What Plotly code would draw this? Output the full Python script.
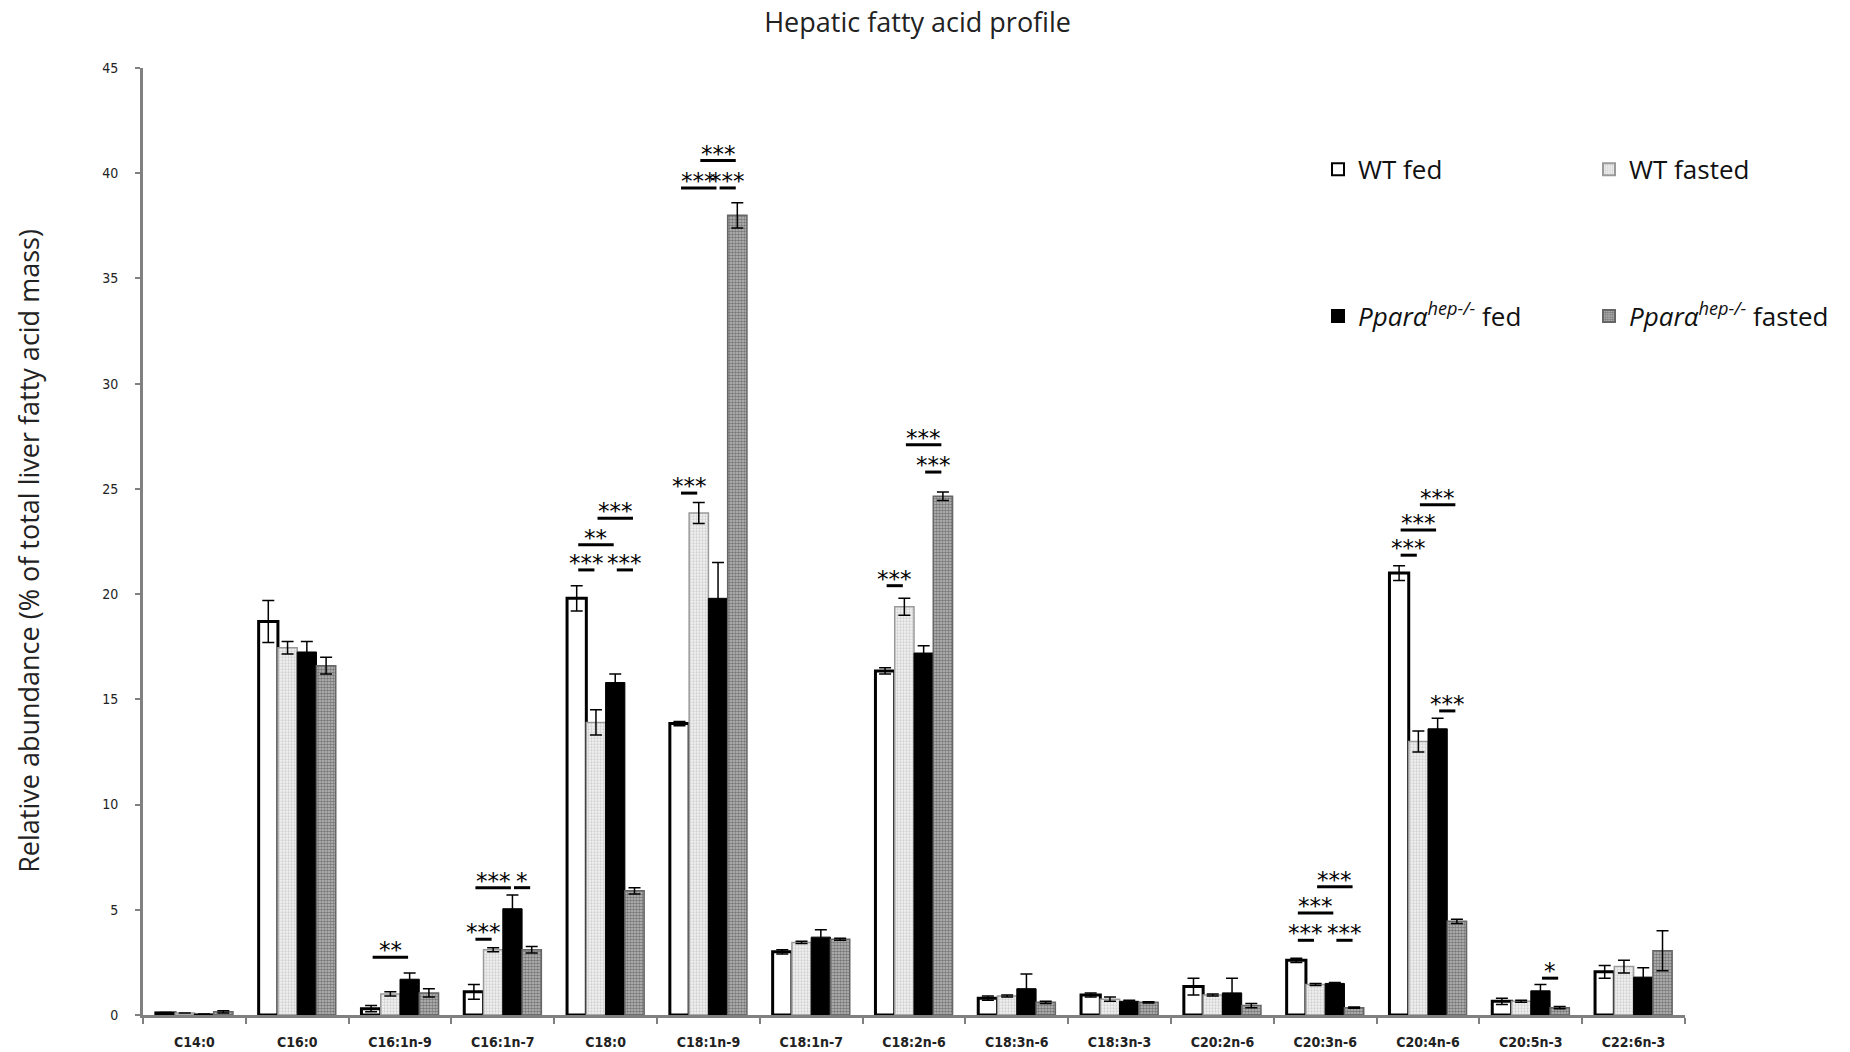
import plotly.graph_objects as go

categories = ["C14:0", "C16:0", "C16:1n-9", "C16:1n-7", "C18:0", "C18:1n-9", "C18:1n-7",
              "C18:2n-6", "C18:3n-6", "C18:3n-3", "C20:2n-6", "C20:3n-6", "C20:4n-6",
              "C20:5n-3", "C22:6n-3"]

wt_fed = [0.1, 18.7, 0.3, 1.1, 19.8, 13.85, 3.0, 16.35, 0.8, 0.95, 1.35, 2.6, 21.0, 0.65, 2.05]
wt_fed_err = [0.02, 1.0, 0.15, 0.35, 0.6, 0.1, 0.1, 0.15, 0.1, 0.1, 0.4, 0.1, 0.35, 0.15, 0.3]
wt_fasted = [0.1, 17.45, 1.0, 3.1, 13.9, 23.85, 3.45, 19.4, 0.9, 0.75, 0.95, 1.45, 13.0, 0.65, 2.3]
wt_fasted_err = [0.0, 0.3, 0.1, 0.1, 0.6, 0.5, 0.05, 0.4, 0.05, 0.1, 0.05, 0.05, 0.5, 0.05, 0.3]
ko_fed = [0.05, 17.25, 1.7, 5.05, 15.8, 19.8, 3.7, 17.2, 1.25, 0.65, 1.05, 1.5, 13.6, 1.15, 1.8]
ko_fed_err = [0.0, 0.5, 0.3, 0.65, 0.4, 1.7, 0.35, 0.35, 0.7, 0.05, 0.7, 0.05, 0.5, 0.3, 0.45]
ko_fasted = [0.15, 16.6, 1.05, 3.1, 5.9, 38.0, 3.6, 24.65, 0.6, 0.6, 0.45, 0.35, 4.45, 0.35, 3.05]
ko_fasted_err = [0.05, 0.4, 0.2, 0.15, 0.15, 0.6, 0.05, 0.2, 0.05, 0.03, 0.1, 0.03, 0.1, 0.05, 0.95]

series_names = ["WT fed", "WT fasted",
                "<i>Pparα</i><sup><i>hep-/-</i></sup> fed",
                "<i>Pparα</i><sup><i>hep-/-</i></sup> fasted"]

# significance brackets: (category index, bar i, bar j, label, level)
sig_cat = [2, 3, 3, 3, 4, 4, 4, 4, 5, 5, 5, 5, 7, 7, 7, 11, 11, 11, 11, 12, 12, 12, 12, 13]
sig_i = [0, 0, 0, 2, 0, 2, 0, 1, 0, 0, 2, 1, 0, 2, 1, 0, 2, 0, 1, 0, 0, 1, 2, 2]
sig_j = [2, 1, 2, 3, 1, 3, 2, 3, 1, 2, 3, 3, 1, 3, 3, 1, 3, 2, 3, 1, 2, 3, 3, 3]
sig_label = ["**", "***", "***", "*", "***", "***", "**", "***", "***", "***", "***", "***",
             "***", "***", "***", "***", "***", "***", "***", "***", "***", "***", "***", "*"]
sig_level = [2.75, 3.6, 6.05, 6.05, 21.15, 21.15, 22.35, 23.6, 24.8, 39.3, 39.3, 40.6,
             20.4, 25.8, 27.1, 3.55, 3.55, 4.85, 6.1, 21.85, 23.05, 24.25, 14.45, 1.75]

BARGAP = 0.25
W = (1 - BARGAP) / 4

fig = go.Figure()

values = [wt_fed, wt_fasted, ko_fed, ko_fasted]
errors = [wt_fed_err, wt_fasted_err, ko_fed_err, ko_fasted_err]
markers = [
    dict(color="white", line=dict(color="black", width=3)),
    dict(color="#e6e6e6", line=dict(color="#9a9a9a", width=1.5),
         pattern=dict(shape=".", bgcolor="#f2f2f2", fgcolor="#b0b0b0", size=3, solidity=0.45)),
    dict(color="black", line=dict(color="black", width=1)),
    dict(color="#808080", line=dict(color="#666666", width=1.5),
         pattern=dict(shape=".", bgcolor="#bdbdbd", fgcolor="#333333", size=3, solidity=0.6)),
]
legends = ["legend", "legend", "legend2", "legend2"]

for name, v, e, m, lg in zip(series_names, values, errors, markers, legends):
    fig.add_trace(go.Bar(
        x=categories, y=v, name=name, marker=m, legend=lg,
        error_y=dict(type="data", array=e, visible=True, color="black", thickness=1.5, width=6),
    ))

for c, i, j, lab, lev in zip(sig_cat, sig_i, sig_j, sig_label, sig_level):
    x0 = c + (i - 1.5) * W + 0.08 * W
    x1 = c + (j - 1.5) * W - 0.08 * W
    fig.add_shape(type="line", xref="x", yref="y", x0=x0, x1=x1, y0=lev, y1=lev,
                  line=dict(color="black", width=3))
    fig.add_annotation(x=(x0 + x1) / 2, y=lev, xref="x", yref="y", text=lab, showarrow=False,
                       yanchor="bottom", yshift=-8,
                       font=dict(family="DejaVu Sans", size=23, color="black"))

fig.add_annotation(xref="paper", yref="paper", x=-0.074, y=0.49, xanchor="center", yanchor="middle",
                   text="Relative abundance (% of total liver fatty acid mass)", textangle=-90,
                   showarrow=False, font=dict(family="Open Sans", size=27, color="#222"))

narrow = "Liberation Sans Narrow, DejaVu Sans Condensed, Arial Narrow, sans-serif"

fig.update_layout(
    width=1850, height=1052,
    paper_bgcolor="white", plot_bgcolor="white",
    margin=dict(l=143, r=165, t=68, b=37, autoexpand=False),
    barmode="group", bargap=BARGAP, bargroupgap=0,
    title=dict(text="Hepatic fatty acid profile", x=0.496, xanchor="center", y=0.979, yanchor="middle",
               font=dict(family="Open Sans", size=27, color="#222")),
    xaxis=dict(type="category", showline=True, linecolor="#808080", linewidth=3,
               ticks="outside", tickson="boundaries", ticklen=6, tickwidth=2, tickcolor="#808080",
               tickfont=dict(family=narrow, size=14, color="#222", weight="bold"),
               showgrid=False, zeroline=False, range=[-0.5, 14.5], ticklabelstandoff=12),
    yaxis=dict(range=[0, 45], dtick=5, showline=True, linecolor="#808080", linewidth=3,
               ticks="outside", ticklen=5, tickwidth=2, tickcolor="#808080",
               tickfont=dict(family=narrow, size=14, color="#222"),
               showgrid=False, zeroline=False, ticklabelstandoff=14),
    legend=dict(orientation="h", x=0.762, y=0.893, xanchor="left", yanchor="middle",
                entrywidth=226, entrywidthmode="pixels", bgcolor="rgba(0,0,0,0)",
                font=dict(family="Open Sans", size=26, color="#111"), itemsizing="constant"),
    legend2=dict(orientation="h", x=0.762, y=0.738, xanchor="left", yanchor="middle",
                 entrywidth=226, entrywidthmode="pixels", bgcolor="rgba(0,0,0,0)",
                 font=dict(family="Open Sans", size=26, color="#111"), itemsizing="constant"),
    showlegend=True,
)

fig.write_html("out.html", config={"displayModeBar": False},
               post_script="document.body.style.margin='0px';document.body.style.overflow='hidden';")
